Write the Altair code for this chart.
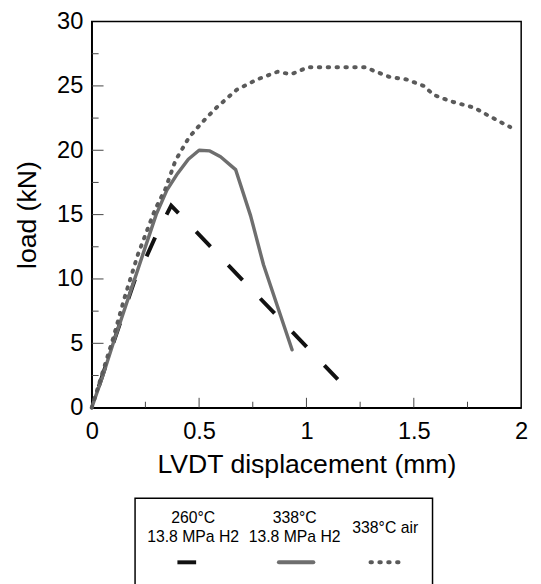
import altair as alt
import pandas as pd

FONT = "Liberation Sans"

# ---- data -------------------------------------------------------------
series = ["260°C\n13.8 MPa H2", "338°C\n13.8 MPa H2", "338°C air"]

h2_260_x = [0, 0.10, 0.20, 0.23, 0.30, 0.37, 1.146]
h2_260_y = [0, 5.0, 9.9, 10.8, 13.4, 15.7, 2.2]

h2_338_x = [0, 0.05, 0.10, 0.20, 0.30, 0.35, 0.40, 0.45, 0.50, 0.55, 0.60, 0.67, 0.74, 0.80, 0.933]
h2_338_y = [0, 2.4, 5.0, 10.0, 15.0, 16.9, 18.2, 19.3, 20.0, 19.95, 19.5, 18.5, 14.9, 11.1, 4.5]

air_338_x = [0, 0.05, 0.10, 0.152, 0.215, 0.295, 0.342, 0.390, 0.453, 0.516, 0.580, 0.675,
             0.770, 0.865, 0.928, 1.007, 1.276, 1.324, 1.387, 1.466, 1.546, 1.593, 1.672,
             1.783, 1.846, 1.949]
air_338_y = [0, 2.7, 5.4, 8.5, 11.9, 15.4, 16.95, 19.2, 21.0, 22.2, 23.3, 24.7,
             25.5, 26.1, 25.9, 26.45, 26.45, 26.1, 25.7, 25.5, 25.0, 24.3, 23.8,
             23.3, 22.7, 21.8]

x_labels = [0, 0.5, 1, 1.5, 2]
y_labels = [0, 5, 10, 15, 20, 25, 30]
x_major_ticks = [0.5, 1, 1.5]
x_minor_ticks = [0.25, 0.75, 1.25, 1.75]
y_major_ticks = [5, 10, 15, 20, 25]
y_minor_ticks = [2.5, 7.5, 12.5, 17.5, 22.5, 27.5]

W, H = 436, 392

xs = alt.Scale(domain=[0, 2], nice=False, zero=False)
ys = alt.Scale(domain=[0, 30], nice=False, zero=False)
x_axis = alt.Axis(title="LVDT displacement (mm)", values=x_labels, format="~g",
                  labelFlush=False, labelOverlap=False, labelPadding=12, titlePadding=9)
y_axis = alt.Axis(title="load (kN)", values=y_labels, labelOverlap=False,
                  labelPadding=9, titlePadding=15)
X = alt.X("x:Q", scale=xs, axis=x_axis)
Y = alt.Y("y:Q", scale=ys, axis=y_axis)


def line_df(xv, yv):
    return pd.DataFrame({"x": xv, "y": yv, "i": list(range(len(xv)))})


# ---- inward ticks ----
def xticks(vals, length):
    return alt.Chart(pd.DataFrame({"x": vals})).mark_rule(color="#444", strokeWidth=1).encode(
        x=X, y=alt.value(H), y2=alt.value(H - length))


def yticks(vals, length):
    return alt.Chart(pd.DataFrame({"y": vals})).mark_rule(color="#444", strokeWidth=1).encode(
        y=Y, x=alt.value(0), x2=alt.value(length))


solid = alt.Chart(line_df(h2_338_x, h2_338_y)).mark_line(
    color="#6e6e6e", strokeWidth=3.5, strokeCap="round", strokeJoin="round"
).encode(x=X, y=Y, order="i:Q")

dotted = alt.Chart(line_df(air_338_x, air_338_y)).mark_line(
    color="#5a5a5a", strokeWidth=4, strokeDash=[1.5, 7.5], strokeCap="round", strokeJoin="round"
).encode(x=X, y=Y, order="i:Q")

dashed = alt.Chart(line_df(h2_260_x, h2_260_y)).mark_line(
    color="#111111", strokeWidth=4, strokeDash=[21, 26], strokeDashOffset=24.4,
    strokeCap="butt", strokeJoin="miter"
).encode(x=X, y=Y, order="i:Q")

# ---- legend (drawn below the plot) ----
one = pd.DataFrame({"k": [0]})
box = alt.Chart(one).mark_rect(fillOpacity=0, stroke="black", strokeWidth=1.5).encode(
    x=alt.value(44), x2=alt.value(346), y=alt.value(484), y2=alt.value(610))

label_x = [103, 206, 298]
label_y = [508.7, 508.7, 519.7]
legend_texts = [
    alt.Chart(pd.DataFrame({"label": [s]})).mark_text(
        font=FONT, fontSize=16, lineBreak="\n", lineHeight=20, align="center",
        baseline="alphabetic", color="black"
    ).encode(x=alt.value(lx), y=alt.value(ly), text="label:N")
    for s, lx, ly in zip(series, label_x, label_y)
]

sym_dash = alt.Chart(one).mark_rule(color="#111111", strokeWidth=4, strokeCap="butt").encode(
    x=alt.value(87), x2=alt.value(106), y=alt.value(549))
sym_solid = alt.Chart(one).mark_rule(color="#6e6e6e", strokeWidth=4, strokeCap="round").encode(
    x=alt.value(190), x2=alt.value(225), y=alt.value(549))
sym_dot = alt.Chart(one).mark_rule(color="#5a5a5a", strokeWidth=4, strokeDash=[1.5, 7.5],
                                   strokeCap="round").encode(
    x=alt.value(283), x2=alt.value(313), y=alt.value(549))

chart = alt.layer(
    xticks(x_major_ticks, 10), xticks(x_minor_ticks, 6),
    yticks(y_major_ticks, 12), yticks(y_minor_ticks, 7),
    dashed, solid, dotted,
    box, *legend_texts, sym_dash, sym_solid, sym_dot,
).properties(
    width=W, height=H,
    padding={"left": 6, "top": -3, "right": 5, "bottom": 5},
    background="white",
).configure_view(
    stroke="black", strokeWidth=1.5
).configure_axis(
    grid=False, ticks=False, domainColor="black", domainWidth=1.5,
    labelFont=FONT, labelFontSize=24, labelColor="black",
    titleFont=FONT, titleFontSize=27, titleFontWeight="normal", titleColor="black",
)

chart.save("out.html", embed_options={"renderer": "svg", "actions": False})
